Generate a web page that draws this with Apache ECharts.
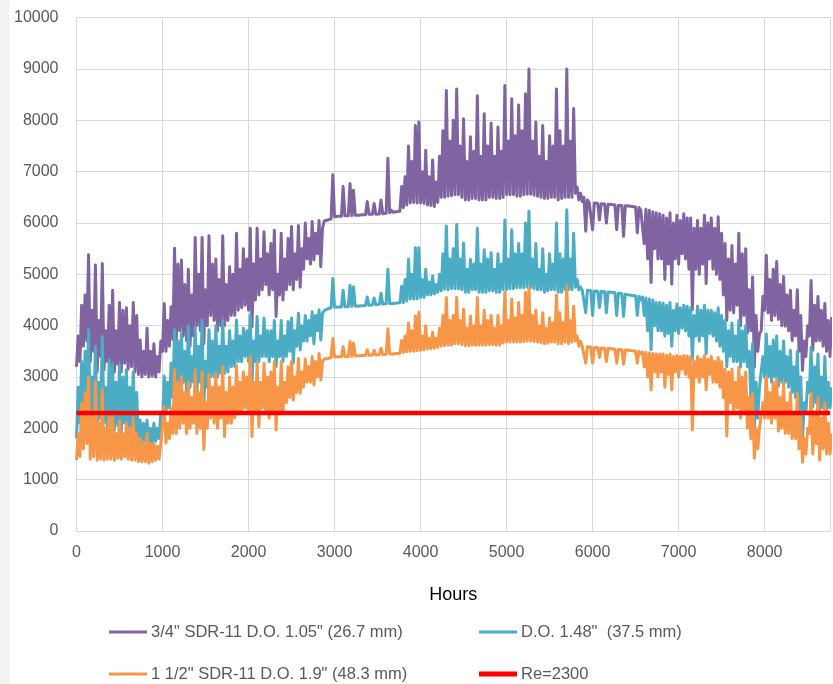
<!DOCTYPE html>
<html>
<head>
<meta charset="utf-8">
<script src="https://cdn.jsdelivr.net/npm/echarts@6/dist/echarts.min.js"></script>
<style>
  html, body { margin: 0; padding: 0; background: #ffffff; }
  #chart { width: 833px; height: 684px; }
</style>
</head>
<body>
<div id="chart"></div>
<script>
// Reynolds number through the year. Each 40-hour slot keeps the local
// minimum and maximum of the hourly trace (rows of 10 slots = 400 h).
const SLOT_HOURS = 40;

const purpleHigh = [
  3800, 4400, 4600, 5380, 4300, 5180, 4100, 5210, 3900, 4400,
  4690, 3900, 4450, 4300, 4350, 4000, 4450, 4200, 3720, 3500,
  3950, 3500, 3650, 3400, 3700, 4430, 4100, 4370, 5510, 5200,
  5280, 4800, 5100, 4600, 5720, 5000, 5720, 4700, 5750, 5200,
  5300, 4900, 5750, 4800, 5150, 5000, 5800, 5100, 5500, 5300,
  5900, 5200, 5900, 5300, 5830, 5400, 5600, 5860, 5000, 5800,
  5300, 5700, 5930, 5400, 5950, 5500, 6000, 5700, 6030, 5800,
  6050, 5900, 6050, 6060, 6940, 6120, 6130, 6710, 6140, 6770,
  6640, 6150, 6150, 6160, 6420, 6170, 6380, 6170, 6450, 6180,
  7260, 6250, 6220, 6230, 6710, 6900, 7500, 7200, 7900, 7970,
  7000, 7420, 6900, 7230, 6800, 7300, 7800, 8580, 7600, 8000,
  8610, 7500, 8030, 7200, 7680, 7400, 8480, 7300, 8130, 7500,
  7950, 7300, 7870, 7400, 8680, 7600, 8420, 7700, 8300, 7800,
  8520, 9000, 7600, 7970, 7300, 7900, 7200, 7700, 7500, 8610,
  7800, 7500, 9000, 7600, 8230, 6700, 6580, 6500, 6450, 6420,
  6390, 6380, 6375, 6370, 6365, 6360, 6350, 6345, 6340, 6335,
  6330, 6320, 6310, 6300, 6280, 6270, 6250, 6220, 6200, 6180,
  6150, 6100, 6200, 6000, 6150, 6050, 6180, 6100, 6100, 5900,
  6050, 5900, 6150, 6000, 6100, 5900, 6120, 5800, 5600, 5300,
  5560, 5200, 5800, 5400, 5500, 4700, 4950, 4200, 3840, 4570,
  5370, 4900, 5100, 5250, 4800, 4960, 4600, 4690, 4300, 4700,
  4200, 3700, 4000, 4880, 4400, 4570, 4300, 4430, 4100, 4170
];
const purpleLow = [
  3200, 3300, 3600, 3700, 3300, 3500, 3100, 3400, 3140, 3300,
  3200, 3100, 3250, 3100, 3270, 3150, 3200, 3100, 3050, 3000,
  3050, 3000, 3020, 3000, 3100, 3500, 3500, 3600, 3730, 3700,
  3900, 3800, 3700, 3600, 3800, 4000, 3900, 3650, 4000, 4200,
  4100, 3900, 4000, 4000, 4100, 4200, 4200, 4300, 4350, 4400,
  4300, 3980, 4500, 4600, 4700, 4800, 4600, 4700, 4180, 4600,
  4500, 4700, 4800, 4700, 4900, 4750, 5100, 5300, 5200, 5280,
  5400, 5150, 6040, 6060, 6080, 6120, 6130, 6130, 6140, 6140,
  6145, 6150, 6150, 6160, 6160, 6170, 6170, 6170, 6175, 6180,
  6190, 6200, 6210, 6220, 6230, 6300, 6350, 6390, 6400, 6390,
  6390, 6380, 6350, 6340, 6320, 6400, 6500, 6500, 6520, 6530,
  6550, 6550, 6500, 6450, 6450, 6480, 6480, 6450, 6450, 6450,
  6500, 6500, 6480, 6480, 6500, 6550, 6550, 6550, 6520, 6520,
  6550, 6560, 6560, 6540, 6520, 6500, 6480, 6480, 6500, 6500,
  6450, 6480, 6500, 6500, 6500, 6580, 6450, 6420, 5840, 6400,
  5870, 6380, 6060, 6370, 6000, 6360, 6350, 5870, 6340, 5740,
  6330, 6320, 6300, 5810, 6250, 5600, 5300, 4840, 5500, 5300,
  5300, 4900, 5200, 4810, 5300, 5200, 5400, 5300, 5100, 4310,
  5100, 5000, 5200, 4820, 5300, 5100, 5000, 4900, 4600, 4100,
  4300, 4250, 4400, 4000, 4200, 3860, 3900, 3190, 3500, 3900,
  4300, 4250, 4100, 4200, 4120, 4000, 3990, 3900, 3710, 3800,
  3500, 3130, 3400, 3800, 3520, 3700, 3710, 3600, 3500, 3400
];

const cyanHigh = [
  2800, 3300, 3500, 3920, 3000, 3600, 2900, 3790, 2800, 3330,
  3240, 2900, 3240, 3000, 3140, 2800, 3100, 2700, 2160, 2100,
  2160, 2000, 2100, 2000, 2300, 3020, 2900, 3270, 3920, 3700,
  3850, 3500, 4000, 3400, 3970, 3600, 4110, 3300, 3920, 3700,
  4000, 3600, 4100, 3600, 3900, 3700, 4110, 3800, 3950, 3900,
  4210, 3700, 4180, 3800, 4150, 3900, 3900, 4100, 3700, 4100,
  3800, 4080, 4150, 3900, 4240, 4000, 4200, 4100, 4270, 4200,
  4310, 4250, 4300, 4340, 4920, 4370, 4370, 4690, 4370, 4790,
  4760, 4380, 4390, 4400, 4560, 4400, 4540, 4410, 4630, 4420,
  5100, 4450, 4430, 4440, 4770, 4900, 5300, 5000, 5520, 5520,
  4900, 5100, 4850, 4970, 4800, 5000, 5400, 5940, 5300, 5500,
  5970, 5300, 5610, 5100, 5290, 5200, 5900, 5200, 5480, 5300,
  5420, 5100, 5400, 5200, 6060, 5300, 5870, 5400, 5600, 5400,
  6000, 6230, 5300, 5600, 5100, 5500, 5000, 5400, 5200, 6000,
  5400, 5300, 6260, 5300, 5800, 4900, 4750, 4700, 4690, 4680,
  4675, 4670, 4665, 4660, 4655, 4650, 4640, 4630, 4620, 4610,
  4600, 4590, 4580, 4570, 4560, 4540, 4520, 4500, 4450, 4450,
  4440, 4400, 4450, 4300, 4420, 4350, 4400, 4380, 4350, 4200,
  4380, 4300, 4400, 4300, 4300, 4250, 4350, 4200, 4100, 3900,
  4050, 3800, 4100, 3900, 4000, 3500, 3650, 2900, 2800, 3400,
  3840, 3600, 3720, 3800, 3500, 3700, 3400, 3520, 3200, 3500,
  3000, 2500, 2900, 3580, 3200, 3450, 3000, 3400, 2900, 2800
];
const cyanLow = [
  1800, 2100, 2300, 2600, 2230, 2200, 1770, 2200, 2100, 2000,
  2000, 1970, 2050, 1900, 2100, 1950, 2000, 1950, 1750, 1720,
  1750, 1710, 1720, 1750, 1800, 2100, 2300, 2400, 2600, 2600,
  2800, 2900, 2700, 2800, 2900, 2700, 2900, 2440, 2800, 3000,
  3000, 3000, 3070, 3070, 3100, 3200, 3200, 3300, 3300, 3400,
  3300, 2880, 3300, 3300, 3400, 3400, 3300, 3400, 3200, 3400,
  3300, 3400, 3500, 3270, 3600, 3530, 3700, 3700, 3800, 3650,
  3900, 3720, 4290, 4330, 4350, 4360, 4365, 4365, 4370, 4370,
  4375, 4380, 4385, 4390, 4395, 4400, 4405, 4410, 4415, 4420,
  4425, 4430, 4430, 4440, 4445, 4450, 4480, 4520, 4520, 4520,
  4550, 4550, 4600, 4600, 4620, 4650, 4680, 4710, 4700, 4720,
  4720, 4720, 4700, 4650, 4650, 4700, 4700, 4650, 4650, 4650,
  4680, 4680, 4650, 4650, 4700, 4700, 4720, 4720, 4740, 4740,
  4740, 4750, 4740, 4720, 4700, 4700, 4650, 4680, 4700, 4700,
  4650, 4650, 4700, 4700, 4700, 4750, 4700, 4690, 4250, 4680,
  4200, 4670, 4350, 4660, 4250, 4650, 4640, 4200, 4620, 4180,
  4600, 4590, 4580, 4200, 4500, 4200, 3900, 3530, 4000, 3900,
  3900, 3800, 3850, 3600, 3900, 3850, 3950, 3900, 3800, 3340,
  3800, 3700, 3800, 3450, 3850, 3800, 3700, 3600, 3500, 3200,
  3400, 3300, 3300, 3190, 3300, 3200, 2600, 1960, 2200, 2800,
  3000, 3000, 2900, 3000, 2820, 2900, 2900, 2800, 2700, 2600,
  2300, 1770, 2300, 2700, 2420, 2500, 2290, 2400, 2300, 2400
];

const orangeHigh = [
  1900, 2500, 2700, 3000, 2300, 2910, 2100, 2750, 2000, 2230,
  2230, 1900, 2150, 1900, 2100, 2000, 2200, 1900, 1800, 1700,
  1900, 1700, 1700, 1650, 1700, 2420, 2100, 2400, 3140, 2900,
  3010, 2700, 2900, 2600, 3140, 2700, 3100, 2500, 3050, 2800,
  3070, 2800, 3200, 2700, 3000, 2800, 3230, 2900, 3100, 3000,
  3400, 2900, 3270, 2900, 3270, 3000, 3100, 3300, 2800, 3300,
  2900, 3200, 3300, 3000, 3360, 3100, 3350, 3200, 3400, 3300,
  3460, 3300, 3360, 3370, 3750, 3400, 3400, 3590, 3410, 3690,
  3660, 3420, 3420, 3420, 3530, 3430, 3520, 3430, 3560, 3440,
  3940, 3460, 3450, 3460, 3710, 3800, 4050, 3900, 4190, 4260,
  3800, 4000, 3750, 3870, 3750, 3950, 4200, 4550, 4100, 4200,
  4550, 4100, 4320, 3950, 4190, 4000, 4550, 4000, 4300, 4100,
  4200, 3950, 4200, 4000, 4650, 4100, 4520, 4150, 4450, 4200,
  4650, 4740, 4200, 4300, 4000, 4250, 3950, 4150, 4050, 4600,
  4250, 4050, 4770, 4100, 4380, 3800, 3700, 3600, 3590, 3585,
  3575, 3570, 3565, 3560, 3555, 3550, 3540, 3535, 3530, 3525,
  3520, 3510, 3500, 3495, 3490, 3480, 3470, 3460, 3450, 3450,
  3450, 3420, 3450, 3400, 3420, 3400, 3420, 3410, 3400, 3300,
  3400, 3350, 3420, 3350, 3400, 3300, 3380, 3300, 3150, 3100,
  3150, 2900, 3190, 3000, 3100, 2600, 2680, 2000, 2000, 2500,
  3000, 2700, 2900, 2950, 2600, 2900, 2500, 2700, 2300, 2680,
  2200, 1800, 2000, 2690, 2300, 2600, 2200, 2500, 2100, 1900
];
const orangeLow = [
  1380, 1450, 1600, 1700, 1400, 1450, 1380, 1400, 1380, 1400,
  1400, 1380, 1420, 1400, 1450, 1400, 1380, 1380, 1350, 1350,
  1350, 1320, 1350, 1380, 1400, 1710, 1710, 1800, 1900, 1900,
  2000, 2100, 1900, 2000, 2100, 1900, 2000, 1590, 2000, 2200,
  2100, 2000, 2200, 1840, 2100, 2100, 2200, 2300, 2300, 2400,
  2300, 1840, 2300, 2030, 2400, 2300, 2200, 2300, 1970, 2300,
  2300, 2500, 2600, 2550, 2700, 2680, 2800, 2900, 2900, 2850,
  3000, 2940, 3350, 3360, 3380, 3390, 3395, 3395, 3400, 3400,
  3405, 3410, 3415, 3420, 3420, 3425, 3430, 3430, 3435, 3440,
  3445, 3450, 3450, 3460, 3465, 3480, 3490, 3500, 3500, 3510,
  3520, 3530, 3550, 3550, 3560, 3580, 3600, 3610, 3620, 3620,
  3650, 3650, 3630, 3610, 3610, 3620, 3620, 3620, 3620, 3620,
  3630, 3630, 3620, 3620, 3660, 3680, 3680, 3680, 3680, 3680,
  3690, 3700, 3700, 3690, 3680, 3670, 3650, 3660, 3680, 3680,
  3650, 3650, 3680, 3650, 3680, 3700, 3600, 3590, 3270, 3580,
  3270, 3570, 3380, 3560, 3300, 3550, 3540, 3270, 3530, 3250,
  3520, 3510, 3500, 3270, 3450, 3200, 3000, 2750, 3100, 3000,
  3100, 2800, 3050, 2750, 3100, 3000, 3150, 3050, 3000, 1970,
  3000, 2900, 3000, 2750, 3050, 2900, 2900, 2800, 2600, 1850,
  2500, 2300, 2400, 2200, 2300, 2000, 1800, 1420, 1600, 2000,
  2200, 2200, 2100, 2200, 1950, 2000, 1900, 1900, 1800, 1800,
  1600, 1340, 1500, 1900, 1500, 1700, 1380, 1600, 1500, 1500
];

// Laminar/turbulent threshold across the whole year
const reLimitHours = [0, 8760];
const reLimitValues = [2300, 2300];

const seriesNames = [
  '3/4" SDR-11 D.O. 1.05" (26.7 mm)',
  'D.O. 1.48"  (37.5 mm)',
  '1 1/2" SDR-11 D.O. 1.9" (48.3 mm)',
  'Re=2300'
];

// Trace each slot as its minimum at the slot start and its maximum half a slot later
function slotTrace(low, high) {
  const pts = [];
  for (let i = 0; i < low.length; i++) {
    pts.push([i * SLOT_HOURS, low[i]]);
    pts.push([i * SLOT_HOURS + SLOT_HOURS / 2, high[i]]);
  }
  return pts;
}

const FONT = '"Liberation Sans", Arial, sans-serif';
const GRID_COLOR = '#d9d9d9';
const TEXT_COLOR = '#595959';
const COLORS = ['#8064A2', '#4BACC6', '#F79646', '#FF0000'];

const chart = echarts.init(document.getElementById('chart'), null, { renderer: 'canvas' });

const lineSeries = (name, data, color, width) => ({
  name: name,
  type: 'line',
  data: data,
  symbol: 'none',
  showSymbol: false,
  lineStyle: { color: color, width: width, join: 'round' },
  itemStyle: { color: color },
  emphasis: { disabled: true },
  clip: true
});

const legendItem = (idx, left, top, thickness) => ({
  data: [seriesNames[idx]],
  left: left,
  top: top,
  padding: 0,
  icon: 'rect',
  itemWidth: 38,
  itemHeight: thickness,
  itemStyle: { color: COLORS[idx] },
  selectedMode: false,
  textStyle: { fontFamily: FONT, fontSize: 16.5, color: TEXT_COLOR, lineHeight: 20, padding: [0, 0, 0, -1] }
});

chart.setOption({
  animation: false,
  backgroundColor: '#ffffff',
  textStyle: { fontFamily: FONT },
  graphic: [{
    type: 'rect',
    left: 0, top: 0,
    shape: { width: 9, height: 684 },
    style: { fill: '#f2f2f2' },
    silent: true
  }],
  grid: { left: 76.5, right: -2, top: 17.7, bottom: 153, containLabel: false },
  xAxis: {
    type: 'value',
    min: 0,
    max: 8760,
    interval: 1000,
    name: 'Hours',
    nameLocation: 'middle',
    nameGap: 55,
    nameTextStyle: { fontFamily: FONT, fontSize: 18, color: '#000000' },
    axisLine: { show: true, lineStyle: { color: GRID_COLOR, width: 1 } },
    axisTick: { show: false },
    splitLine: { show: true, lineStyle: { color: GRID_COLOR, width: 1 } },
    axisLabel: {
      fontFamily: FONT, fontSize: 16, color: TEXT_COLOR, margin: 14,
      formatter: v => (v % 1000 === 0 ? String(v) : '')
    }
  },
  yAxis: {
    type: 'value',
    min: 0,
    max: 10000,
    interval: 1000,
    axisLine: { show: false },
    axisTick: { show: false },
    splitLine: { show: true, lineStyle: { color: GRID_COLOR, width: 1 } },
    axisLabel: { fontFamily: FONT, fontSize: 16, color: TEXT_COLOR, margin: 18, formatter: v => String(v) }
  },
  legend: [
    legendItem(0, 109, 622, 3),
    legendItem(1, 479, 622, 3),
    legendItem(2, 109, 664, 3),
    legendItem(3, 479, 664, 5)
  ],
  series: [
    lineSeries(seriesNames[0], slotTrace(purpleLow, purpleHigh), COLORS[0], 3),
    lineSeries(seriesNames[1], slotTrace(cyanLow, cyanHigh), COLORS[1], 3),
    lineSeries(seriesNames[2], slotTrace(orangeLow, orangeHigh), COLORS[2], 3),
    lineSeries(seriesNames[3], reLimitHours.map((h, i) => [h, reLimitValues[i]]), COLORS[3], 4.5)
  ]
});
</script>
</body>
</html>
